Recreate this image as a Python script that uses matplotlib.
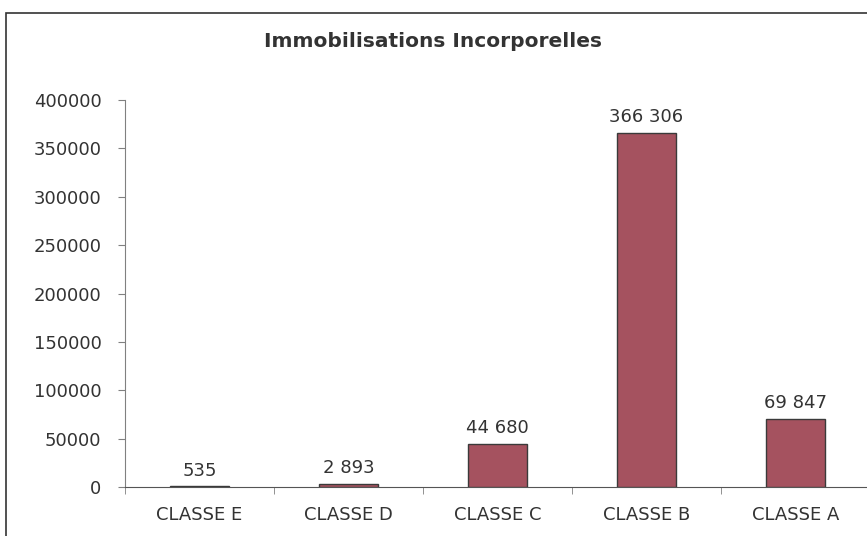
import numpy as np
import matplotlib.pyplot as plt
from matplotlib.patches import Rectangle

plt.rcParams['font.family'] = ['DejaVu Sans']

categories = ['CLASSE E', 'CLASSE D', 'CLASSE C', 'CLASSE B', 'CLASSE A']
values = [535, 2893, 44680, 366306, 69847]
labels = ['535', '2 893', '44 680', '366 306', '69 847']

fig = plt.figure(figsize=(8.67, 5.36), dpi=100)
# outer chart frame (cut off on right and bottom like the reference)
fig.patches.append(Rectangle((0.007, -0.05), 1.1, 0.9757 + 0.05, transform=fig.transFigure,
                             fill=False, edgecolor='#333333', linewidth=1.2))

ax = fig.add_axes([0.1442, 0.0914, 0.8593, 0.722])
x = np.arange(len(categories))
ax.bar(x, values, width=0.4, color='#A5525F', edgecolor='#3a3a3a', linewidth=1.0, zorder=3)
for xi, v, lab in zip(x, values, labels):
    ax.annotate(lab, (xi, v), xytext=(0, 5), textcoords='offset points',
                ha='center', va='bottom', fontsize=13, color='#333333')

ax.set_xlim(-0.5, 4.5)
ax.set_ylim(0, 400000)
ax.set_yticks(np.arange(0, 400001, 50000))
ax.set_yticklabels([str(t) for t in range(0, 400001, 50000)], fontsize=13, color='#333333')
ax.set_xticks(x)
ax.set_xticklabels(categories, fontsize=13, color='#333333')
ax.set_xticks(np.arange(-0.5, 5, 1), minor=True)
ax.tick_params(axis='x', which='major', length=0, pad=14)
ax.tick_params(axis='x', which='minor', length=5, color='#808080')
ax.tick_params(axis='y', length=5, color='#808080', pad=12)
for s in ['top', 'right']:
    ax.spines[s].set_visible(False)
ax.spines['left'].set_color('#808080')
ax.spines['bottom'].set_color('#555555')

fig.text(0.5, 0.9235, 'Immobilisations Incorporelles', ha='center', va='center',
         fontsize=14.5, fontweight='bold', color='#333333')

fig.savefig('out.png', dpi=100)
